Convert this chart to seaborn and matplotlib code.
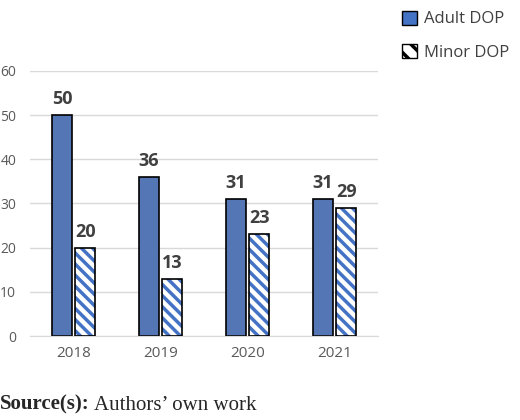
import matplotlib
matplotlib.use("Agg")
import matplotlib.pyplot as plt
import matplotlib.patches as mpatches
import pandas as pd
import seaborn as sns

years = ["2018", "2019", "2020", "2021"]
adult = [50, 36, 31, 31]
minor = [20, 13, 23, 29]
series = ["Adult DOP", "Minor DOP"]

df = pd.DataFrame({
    "year": years * 2,
    "value": adult + minor,
    "series": [series[0]] * 4 + [series[1]] * 4,
})

sns.set_style("white")
plt.rcParams["font.family"] = ["Open Sans", "DejaVu Sans"]
plt.rcParams["hatch.linewidth"] = 2.5

blue = "#4472C4"
fig = plt.figure(figsize=(5.2, 4.2), dpi=100)
ax = fig.add_axes([0.058, 0.2, 0.669, 0.631])
sns.barplot(data=df, x="year", y="value", hue="series", palette=[blue, blue],
            width=0.54, gap=0.15, edgecolor="black", linewidth=1.2, ax=ax, legend=False)

for bar in ax.containers[1]:
    bar.set_facecolor("white")
    bar.set_edgecolor(blue)
    bar.set_hatch("\\\\\\")
    bar.set_linewidth(0)
    ax.add_patch(mpatches.Rectangle(bar.get_xy(), bar.get_width(), bar.get_height(),
                                    fill=False, edgecolor="black", linewidth=1.2, zorder=3))

for cont in ax.containers:
    ax.bar_label(cont, padding=5, fontsize=13, fontweight="bold", color="#404040")

ax.set_ylim(0, 60)
ax.set_xlim(-0.5, 3.5)
ax.set_yticks(range(0, 61, 10))
ax.yaxis.grid(True, color="#d9d9d9", linewidth=1)
ax.set_axisbelow(True)
for s in ["top", "right", "left"]:
    ax.spines[s].set_visible(False)
ax.spines["bottom"].set_color("#d9d9d9")
ax.tick_params(axis="x", length=0, labelsize=11, colors="#595959", pad=7)
ax.tick_params(axis="y", length=0, labelsize=10, colors="#595959", pad=10)
ax.set_xlabel("")
ax.set_ylabel("")

h1 = mpatches.Patch(facecolor=blue, edgecolor="black", label=series[0])
h2 = mpatches.Patch(facecolor="white", edgecolor="black", hatch="\\\\", label=series[1])
fig.legend(handles=[h1, h2], loc="upper left", bbox_to_anchor=(0.745, 1.01), frameon=False,
           fontsize=12, labelcolor="#404040", handlelength=0.9, handleheight=0.9,
           handletextpad=0.4, labelspacing=1.0)

t = fig.text(0.0, 0.025, "Source(s):", fontsize=15, family="Liberation Serif", fontweight="bold")
fig.canvas.draw()
bb = t.get_window_extent().transformed(fig.transFigure.inverted())
fig.text(bb.x1 + 0.008, 0.025, "Authors’ own work", fontsize=15, family="Liberation Serif")
fig.savefig("out.png", dpi=100)
